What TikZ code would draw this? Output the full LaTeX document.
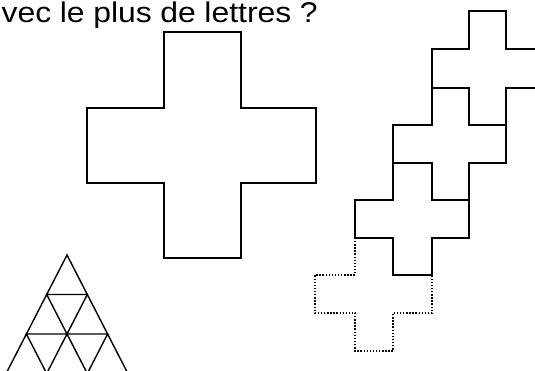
\documentclass[tikz,border=0pt]{standalone}
\usepackage{fontspec}
\setmainfont{Liberation Sans}
\newfontfamily\titlefont[FakeStretch=1.12]{Liberation Sans}
\begin{document}
\begin{tikzpicture}[x=1pt,y=-1pt,
  solidline/.style={draw=black, line width=1.3pt, line join=miter},
  dotline/.style={draw=black, line width=1.4pt, dash pattern=on 1.4pt off 1.7pt},
  trianglestyle/.style={draw=black, line width=1.4pt, line join=miter}]
\useasboundingbox (0,0) rectangle (535,371);
\clip (0,0) rectangle (535,371);
\fill[white] (0,0) rectangle (535,371);
% title text
\node[anchor=base west, inner sep=0pt, font=\titlefont\fontsize{28.5}{34}\selectfont] (title) at (1.5,22.3)
  {\makebox[316pt][s]{vec le plus de lettres ?}};
% big cross
\draw[solidline] (164,32) -- (241,32) -- (241,108) -- (316,108) -- (316,183) -- (241,183)
  -- (241,258) -- (164,258) -- (164,183) -- (87,183) -- (87,108) -- (164,108) -- cycle;
% staircase of crosses
\draw[solidline] (469,11) -- (506,11) -- (506,49) -- (545,49) -- (545,88) -- (506,88)
  -- (506,125) -- (469,125) -- (469,88) -- (432,88) -- (432,49) -- (469,49) -- cycle;
\draw[solidline] (432,88) -- (469,88) -- (469,125) -- (506,125) -- (506,163) -- (469,163)
  -- (469,200) -- (432,200) -- (432,163) -- (393,163) -- (393,125) -- (432,125) -- cycle;
\draw[solidline] (393,163) -- (432,163) -- (432,200) -- (469,200) -- (469,238) -- (432,238)
  -- (432,275) -- (393,275) -- (393,238) -- (355,238) -- (355,200) -- (393,200) -- cycle;
\draw[dotline] (355,238) -- (355,275) -- (315,275) -- (315,313) -- (355,313) -- (355,351)
  -- (393,351) -- (393,313) -- (432,313) -- (432,275);
% subdivided triangle
\foreach \k in {0,1,2} {
  \foreach \i in {0,...,\k} {
    \draw[trianglestyle] ({67-20.3*\k+40.6*\i},{255+39.5*\k})
      -- ({67-20.3*(\k+1)+40.6*\i},{255+39.5*(\k+1)})
      -- ({67-20.3*(\k+1)+40.6*(\i+1)},{255+39.5*(\k+1)}) -- cycle;
  }
}
\end{tikzpicture}
\end{document}
